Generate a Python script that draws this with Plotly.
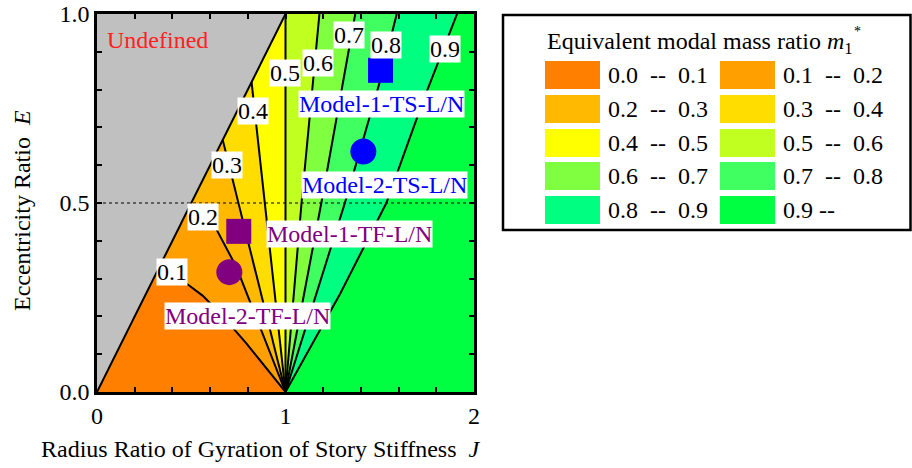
import plotly.graph_objects as go

FONT = "Liberation Serif, Times New Roman, Times, serif"

# ---- data -----------------------------------------------------------------
# contour lines of m1* (J, E), each starting at the apex (1, 0)
levels = [0.1, 0.2, 0.3, 0.4, 0.5, 0.6, 0.7, 0.8, 0.9]
line_J = {
    0.1: [1.0, 0.79, 0.65, 0.56, 0.48, 0.40, 0.33],
    0.2: [1.0, 0.87, 0.74, 0.635, 0.56, 0.48],
    0.3: [1.0, 0.667],
    0.4: [1.0, 0.82],
    0.5: [1.0, 1.0],
    0.6: [1.0, 1.085, 1.18],
    0.7: [1.0, 1.19, 1.37],
    0.8: [1.0, 1.17, 1.315, 1.50, 1.59],
    0.9: [1.0, 1.29, 1.535, 1.73, 1.91],
}
line_E = {
    0.1: [0.0, 0.13, 0.21, 0.255, 0.285, 0.31, 0.33],
    0.2: [0.0, 0.165, 0.33, 0.429, 0.462, 0.48],
    0.3: [0.0, 0.667],
    0.4: [0.0, 0.82],
    0.5: [0.0, 1.0],
    0.6: [0.0, 0.5, 1.0],
    0.7: [0.0, 0.5, 1.0],
    0.8: [0.0, 0.27, 0.5, 0.82, 1.0],
    0.9: [0.0, 0.26, 0.5, 0.77, 1.0],
}
# contour label positions
label_J = [0.398, 0.56, 0.688, 0.829, 0.997, 1.17, 1.337, 1.533, 1.846]
label_E = [0.317, 0.462, 0.60, 0.744, 0.845, 0.870, 0.944, 0.918, 0.907]

band_names = ["0.0  --  0.1", "0.1  --  0.2", "0.2  --  0.3", "0.3  --  0.4",
              "0.4  --  0.5", "0.5  --  0.6", "0.6  --  0.7", "0.7  --  0.8",
              "0.8  --  0.9", "0.9 --"]
band_colors = ["#FF8000", "#FFA000", "#FFB900", "#FFDD00", "#FFFF00",
               "#C0FF20", "#80FF40", "#40FF60", "#00FF80", "#00FF40"]

# undefined region (E > J)
undef_J = [0.0, 1.0, 0.0]
undef_E = [0.0, 1.0, 1.0]

# models
model_names = ["Model-1-TS-L/N", "Model-2-TS-L/N", "Model-1-TF-L/N", "Model-2-TF-L/N"]
model_J = [1.504, 1.413, 0.752, 0.702]
model_E = [0.851, 0.636, 0.425, 0.317]
model_symbols = ["square", "circle", "square", "circle"]
model_colors = ["#0000FF", "#0000FF", "#800080", "#800080"]
model_label_J = [1.507, 1.523, 1.342, 0.80]
model_label_E = [0.762, 0.548, 0.418, 0.20]

ref_E = 0.5

# ---- figure ----------------------------------------------------------------
fig = go.Figure()

# gray undefined region
fig.add_trace(go.Scatter(x=undef_J, y=undef_E, fill="toself", mode="lines",
                         line=dict(width=0), fillcolor="#C0C0C0",
                         hoverinfo="skip", showlegend=False))

# filled bands
for i in range(10):
    if i == 0:
        xs = [0.0] + line_J[levels[0]]
        ys = [0.0] + line_E[levels[0]]
    elif i == 9:
        xs = line_J[levels[8]] + [2.0, 2.0]
        ys = line_E[levels[8]] + [1.0, 0.0]
    else:
        a, b = levels[i - 1], levels[i]
        xs = line_J[a] + line_J[b][::-1]
        ys = line_E[a] + line_E[b][::-1]
    fig.add_trace(go.Scatter(x=xs, y=ys, fill="toself", mode="lines",
                             line=dict(width=0), fillcolor=band_colors[i],
                             hoverinfo="skip", showlegend=False))

# reference dotted line
fig.add_trace(go.Scatter(x=[0, 2], y=[ref_E, ref_E], mode="lines",
                         line=dict(color="black", width=1.2, dash="3px,3px"),
                         hoverinfo="skip", showlegend=False))

# undefined boundary
fig.add_trace(go.Scatter(x=undef_J[:2], y=undef_E[:2], mode="lines",
                         line=dict(color="black", width=2),
                         hoverinfo="skip", showlegend=False))
# contour lines
for lv in levels:
    fig.add_trace(go.Scatter(x=line_J[lv], y=line_E[lv], mode="lines",
                             line=dict(color="black", width=2),
                             hoverinfo="skip", showlegend=False))

# contour labels
for lv, lj, le in zip(levels, label_J, label_E):
    fig.add_annotation(x=lj, y=le, text=f"{lv:.1f}", showarrow=False,
                       bgcolor="white", borderpad=0,
                       font=dict(family=FONT, size=24, color="black"))

# models
for n, j, e, s, c, lj, le in zip(model_names, model_J, model_E, model_symbols,
                                  model_colors, model_label_J, model_label_E):
    fig.add_trace(go.Scatter(x=[j], y=[e], mode="markers",
                             marker=dict(symbol=s, size=26 if s == "circle" else 25,
                                         color=c, line=dict(width=0)),
                             hoverinfo="skip", showlegend=False))
    fig.add_annotation(x=lj, y=le, text=n, showarrow=False, bgcolor="white",
                       borderpad=0, font=dict(family=FONT, size=24, color=c))

fig.add_annotation(x=0.32, y=0.93, text="Undefined", showarrow=False,
                   font=dict(family=FONT, size=24, color="#FF2020"))

# ---- legend (drawn manually) ----------------------------------------------
L, R, T, B = 97, 474, 14, 392


def px(x):
    return (x - L) / (R - L)


def py(y):
    return (B - y) / (B - T)


fig.add_shape(type="rect", xref="paper", yref="paper",
              x0=px(503), x1=px(910.5), y0=py(230), y1=py(15),
              line=dict(color="black", width=2.5), fillcolor="white", layer="above")
fig.add_annotation(xref="paper", yref="paper", x=px(545), y=py(43),
                   xanchor="left", yanchor="middle", showarrow=False,
                   text="Equivalent modal mass ratio <i>m</i><sub>1</sub>",
                   font=dict(family=FONT, size=24, color="black"))
fig.add_annotation(xref="paper", yref="paper", x=px(852), y=py(31),
                   xanchor="left", yanchor="middle", showarrow=False, text="*",
                   font=dict(family=FONT, size=14, color="black"))
row_tops = [61, 95, 129, 162, 196]
col_x = [545, 720]
for i in range(10):
    r, c = divmod(i, 2)
    x0 = col_x[c]
    y0 = row_tops[r]
    fig.add_shape(type="rect", xref="paper", yref="paper",
                  x0=px(x0), x1=px(x0 + 55), y0=py(y0 + 28), y1=py(y0),
                  line=dict(width=0), fillcolor=band_colors[i], layer="above")
    fig.add_annotation(xref="paper", yref="paper", x=px(x0 + 61), y=py(y0 + 14),
                       xanchor="left", yanchor="middle", showarrow=False,
                       text=band_names[i].replace(" ", "\u00a0"),
                       font=dict(family=FONT, size=24, color="black"))

# axis titles
fig.add_annotation(xref="paper", yref="paper", x=px(261), y=py(449),
                   xanchor="center", yanchor="middle", showarrow=False,
                   text="Radius Ratio of Gyration of Story Stiffness\u00a0\u00a0<i>J</i>",
                   font=dict(family=FONT, size=24, color="black"))
fig.add_annotation(xref="paper", yref="paper", x=px(22), y=py(211),
                   xanchor="center", yanchor="middle", showarrow=False, textangle=-90,
                   text="Eccentricity Ratio\u00a0\u00a0<i>E</i>",
                   font=dict(family=FONT, size=24, color="black"))

axis_common = dict(showline=True, linecolor="black", linewidth=2.5, mirror="ticks",
                   ticks="inside", ticklen=5, tickwidth=1.5, tickcolor="black",
                   showgrid=False, zeroline=False, automargin=False,
                   tickfont=dict(family=FONT, size=24, color="black"))
fig.update_xaxes(range=[0, 2], tickvals=[0, 1, 2], ticktext=["0", "1", "2"],
                 minor=dict(dtick=0.2, ticks="inside", ticklen=5, tickwidth=1.5,
                            tickcolor="black", showgrid=False),
                 **axis_common)
fig.update_yaxes(range=[0, 1], tickvals=[0, 0.5, 1], ticktext=["0.0", "0.5", "1.0"],
                 minor=dict(dtick=0.1, ticks="inside", ticklen=5, tickwidth=1.5,
                            tickcolor="black", showgrid=False),
                 **axis_common)

fig.update_layout(width=912, height=468,
                  margin=dict(l=L, r=912 - R, t=T, b=468 - B, autoexpand=False),
                  plot_bgcolor="white", paper_bgcolor="white",
                  font=dict(family=FONT, size=24, color="black"),
                  showlegend=False)

fig.write_html("out.html")
